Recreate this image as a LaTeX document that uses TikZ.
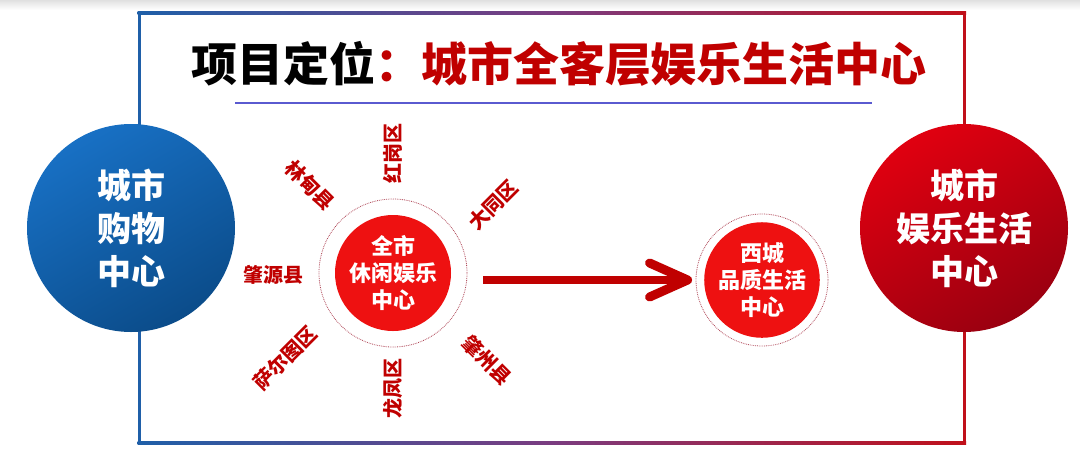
\documentclass[tikz,border=0pt]{standalone}
\usepackage{fontspec}
\newfontfamily\cjk{Noto Sans CJK SC}
\usetikzlibrary{calc}
\definecolor{fblue}{HTML}{1F5FA8}
\definecolor{fred}{HTML}{C0101A}
\definecolor{fpurple}{HTML}{7A3C80}
\definecolor{dred}{HTML}{C00000}
\definecolor{bred}{HTML}{EE1111}
\definecolor{blueA}{HTML}{1870C4}
\definecolor{blueB}{HTML}{0B4C8A}
\definecolor{redA}{HTML}{E00010}
\definecolor{redB}{HTML}{9A0010}
\definecolor{lineblue}{HTML}{5A5AD0}
\definecolor{ringc}{HTML}{B04858}
\tikzset{
  bigcirc/.style={circle, minimum size=208pt, inner sep=0pt, align=center, text=white,
     font=\cjk\bfseries\fontsize{34}{43}\selectfont},
  midcirc/.style={circle, fill=bred, inner sep=0pt, align=center, text=white,
     font=\cjk\bfseries\fontsize{22}{27}\selectfont},
  ring/.style={circle, draw=ringc, densely dotted, line width=0.8pt, inner sep=0pt},
  area/.style={text=dred, font=\cjk\bfseries\fontsize{20}{24}\selectfont, inner sep=0pt},
  shaft/.style={draw=dred, line width=8pt},
  chev/.style={draw=dred, line width=9pt, line cap=round, line join=round}
}
\begin{document}
\begin{tikzpicture}[x=1pt,y=-1pt]
\useasboundingbox (0,0) rectangle (1080,467);
\fill[white] (0,0) rectangle (1080,467);
\shade[top color=black!12, bottom color=white] (0,0) rectangle (1080,10);
% frame
\shade[left color=fblue, right color=fred, middle color=fpurple] (137.5,11.5) rectangle (966,14.5);
\shade[left color=fblue, right color=fred, middle color=fpurple] (137.5,441.5) rectangle (966,444.5);
\fill[fblue] (137.5,11.5) rectangle (140.5,444.5);
\fill[fred] (963,11.5) rectangle (966,444.5);
% title
\node[font=\cjk\bfseries\fontsize{46}{50}\selectfont, inner sep=0pt] (title) at (559,64)
  {\textcolor{black}{项目定位}\textcolor{dred}{：城市全客层娱乐生活中心}};
\coordinate (ulA) at (235,103);
\coordinate (ulB) at (872,103);
\draw[lineblue, line width=1.5pt] (ulA) -- (ulB);
% big circles
\shade[top color=blueA, bottom color=blueB, shading angle=30] (131,228) circle (104);
\node[bigcirc] (shop) at (131,228) {城市\\购物\\中心};
\shade[top color=redA, bottom color=redB, shading angle=30] (964,228) circle (104);
\node[bigcirc] (fun) at (964,228) {城市\\娱乐生活\\中心};
% center cluster
\node[ring, minimum size=148pt] (ring1) at (393,273) {};
\node[midcirc, minimum size=116pt] (quan) at (393,273) {全市\\休闲娱乐\\中心};
\node[area, rotate=90] (hg) at (393,153) {红岗区};
\node[area, rotate=90] (lf) at (393,388) {龙凤区};
\node[area] (zy) at (273,275) {肇源县};
\node[area, rotate=-45] (ld) at (310,185) {林甸县};
\node[area, rotate=45] (dt) at (493,205) {大同区};
\node[area, rotate=45] (set) at (285,358) {萨尔图区};
\node[area, rotate=-45] (zz) at (487,360) {肇州县};
% right cluster
\node[ring, minimum size=132pt] (ring2) at (762,280) {};
\node[midcirc, minimum size=102pt] (xc) at (762,280) {西城\\品质生活\\中心};
% arrow
\coordinate (tip) at ($(ring2.west)+(-8,0)$);
\path ($(ring1.east)+(16,0)$) coordinate (t0);
\coordinate (tail) at (t0 |- tip);
\draw[shaft] (tail) -- ($(tip)+(-4,0)$);
\draw[chev] ($(tip)+(-38,-17)$) -- (tip) -- ($(tip)+(-38,17)$);
\end{tikzpicture}
\end{document}
